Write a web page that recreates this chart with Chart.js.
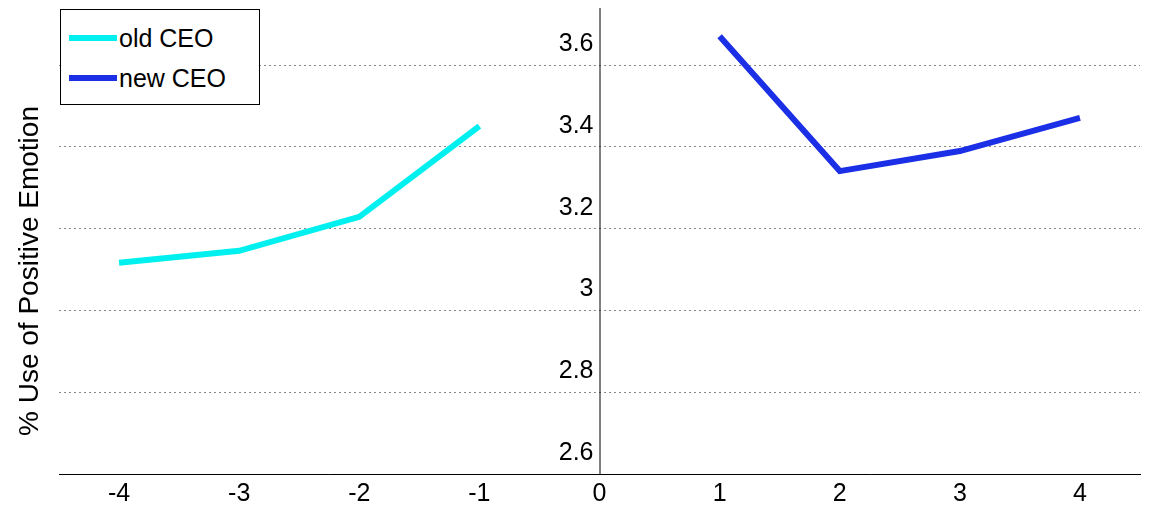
<!DOCTYPE html>
<html>
<head>
<meta charset="utf-8">
<script src="https://cdn.jsdelivr.net/npm/chart.js@4"></script>
<style>
html, body { margin: 0; padding: 0; background: #fff; }
#wrap { position: relative; width: 1153px; height: 514px; }
#legend {
  position: absolute; left: 60px; top: 9px; width: 200px; height: 96px;
  border: 1px solid #000; background: #fff; font-family: "Liberation Sans", Arial, sans-serif;
  font-size: 25px; box-sizing: border-box; padding-top: 8px;
}
#legend div { height: 40px; line-height: 36px; display: flex; align-items: center; }
#legend span.ln { display: inline-block; width: 48px; height: 6px; margin-left: 8px; margin-right: 2px; }
</style>
</head>
<body>
<div id="wrap">
<canvas id="chart" width="1153" height="514"></canvas>
<div id="legend">
  <div><span class="ln" style="background:#00f0f0"></span>old CEO</div>
  <div><span class="ln" style="background:#1a2fe6"></span>new CEO</div>
</div>
</div>
<script>
// data
const oldYears = [-4, -3, -2, -1];
const oldValues = [3.117, 3.146, 3.229, 3.451];
const newYears = [1, 2, 3, 4];
const newValues = [3.671, 3.341, 3.390, 3.471];
const xTicks = [-4, -3, -2, -1, 0, 1, 2, 3, 4];
const yTicks = [2.6, 2.8, 3, 3.2, 3.4, 3.6];

const font = '"Liberation Sans", Arial, sans-serif';

// y labels sit left of the x=0 axis, a bit above the grid line
const yLabels = {
  id: 'yLabels',
  afterDraw(chart) {
    const ctx = chart.ctx, y = chart.scales.y, x = chart.scales.x;
    const x0 = x.getPixelForValue(0);
    ctx.save();
    ctx.strokeStyle = '#000';
    ctx.lineWidth = 1;
    ctx.beginPath();
    ctx.moveTo(x0 + 0.5, chart.chartArea.top);
    ctx.lineTo(x0 + 0.5, chart.chartArea.bottom);
    ctx.stroke();
    ctx.fillStyle = '#000';
    ctx.font = '25px ' + font;
    ctx.textAlign = 'right';
    ctx.textBaseline = 'middle';
    yTicks.forEach(v => {
      ctx.fillText(String(v), x0 - 6, y.getPixelForValue(v) - 21);
    });
    ctx.translate(30, (chart.chartArea.top + chart.chartArea.bottom) / 2 + 30);
    ctx.rotate(-Math.PI / 2);
    ctx.textAlign = 'center';
    ctx.font = '28px ' + font;
    ctx.fillText('% Use of Positive Emotion', 0, 0);
    ctx.restore();
  }
};

new Chart(document.getElementById('chart'), {
  type: 'line',
  data: {
    datasets: [
      { label: 'old CEO', data: oldYears.map((x, i) => ({ x: x, y: oldValues[i] })),
        borderColor: '#00f0f0', borderWidth: 6, pointRadius: 0, tension: 0 },
      { label: 'new CEO', data: newYears.map((x, i) => ({ x: x, y: newValues[i] })),
        borderColor: '#1a2fe6', borderWidth: 6, pointRadius: 0, tension: 0 }
    ]
  },
  options: {
    responsive: false,
    animation: false,
    layout: { padding: { left: 59, right: 13, top: 8, bottom: 0 } },
    plugins: { legend: { display: false }, tooltip: { enabled: false } },
    scales: {
      x: {
        type: 'linear', min: -4.5, max: 4.5,
        afterBuildTicks: s => { s.ticks = xTicks.map(v => ({ value: v })); },
        grid: { display: false, drawTicks: false },
        border: { color: '#000', width: 1 },
        ticks: { color: '#000', font: { family: font, size: 25 }, padding: 5 }
      },
      y: {
        min: 2.6, max: 3.74,
        afterBuildTicks: s => { s.ticks = yTicks.map(v => ({ value: v })); },
        ticks: { display: false },
        grid: { color: '#888', lineWidth: 1, drawTicks: false, borderDash: [2, 3] },
        border: { display: false, dash: [2, 3] }
      }
    }
  },
  plugins: [yLabels]
});
</script>
</body>
</html>
